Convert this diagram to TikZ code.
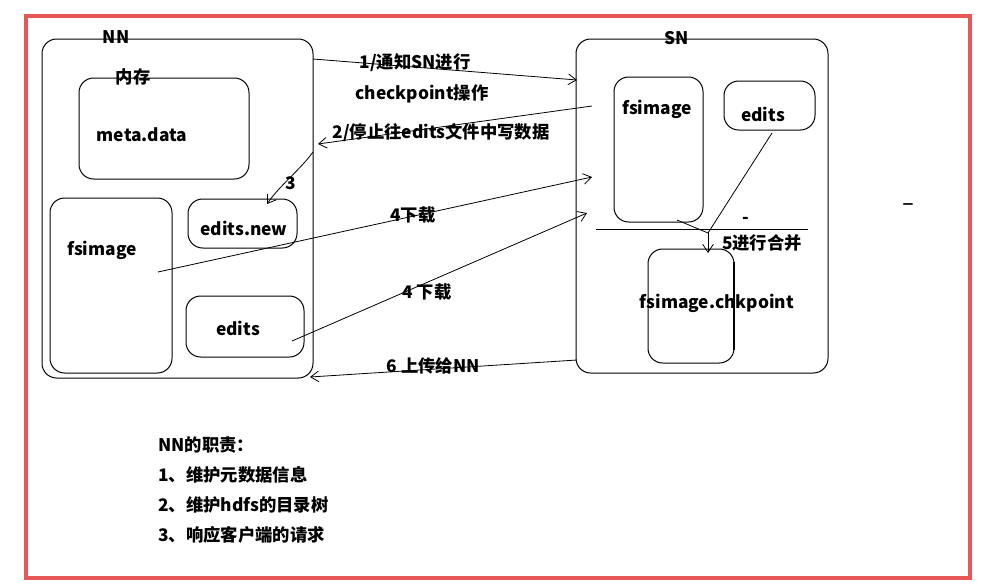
\documentclass[tikz,border=0pt]{standalone}
\usepackage{fontspec}
\setmainfont{Noto Sans CJK SC}
\usetikzlibrary{arrows.meta,fit}
\definecolor{framered}{RGB}{232,86,86}
\begin{document}
\begin{tikzpicture}[x=0.75pt,y=-0.75pt,
  box/.style={draw=black,line width=0.75pt,rounded corners=11pt,inner sep=0pt},
  lbl/.style={font=\fontsize{13pt}{15pt}\selectfont\bfseries,inner sep=0pt},
  conn/.style={draw=black,line width=0.6pt},
  tip/.style={-{Straight Barb[length=6pt,width=8pt]}}]
\useasboundingbox (0,0) rectangle (1007,586);
\fill[white] (0,0) rectangle (1007,586);
\draw[framered,line width=2.5pt] (26,16) rectangle (970,578);
% NN side
\node[box,fit={(42,39)(313,378)}] (nn) {};
\node[box,fit={(79,78)(249,179)}] (meta) {};
\node[box,fit={(50,198)(172,373)}] (fsnn) {};
\node[box,fit={(188,199)(297,248)}] (newedits) {};
\node[box,fit={(186,296)(304,357)}] (editsnn) {};
% SN side
\node[box,fit={(576,39)(828,373)}] (sn) {};
\node[box,fit={(614,77)(703,222)}] (fssn) {};
\node[box,fit={(724,81)(815,130)}] (editssn) {};
\node[box,fit={(648,249)(734,363)}] (chk) {};
\draw[line width=1.6pt] (734,262) -- (734,350);
% labels
\node[lbl] (tnn) at (116,37) {NN};
\node[lbl] (tmem) at (133,77) {内存};
\node[lbl] (tmeta) at (142,135) {meta.data};
\node[lbl] (tfsnn) at (102,250) {fsimage};
\node[lbl] (tnew) at (244,228) {edits.new};
\node[lbl] (tednn) at (238,328) {edits};
\node[lbl] (tsn) at (677,38) {SN};
\node[lbl] (tfssn) at (657,109) {fsimage};
\node[lbl] (tedsn) at (763,114) {edits};
\node[lbl] (tchk) at (717,303) {fsimage.chkpoint};
\node[lbl] (t5) at (762,243) {5进行合并};
\node[lbl] (t1a) at (415,63) {1/通知SN进行};
\node[lbl] (t1b) at (422,94) {checkpoint操作};
\node[lbl] (t2) at (441,133) {2/停止往edits文件中写数据};
\node[lbl] (t3) at (291,183) {3};
\node[lbl] (t4a) at (413,215) {4下载};
\node[lbl] (t4b) at (427,292) {4 下载};
\node[lbl] (t6) at (433,366) {6 上传给NN};
\node[lbl] (dash1) at (746,220) {-};
\node[lbl] (dash2) at (908,204) {\_};
% bottom text
\node[lbl,anchor=west] (r0) at (158,445) {NN的职责：};
\node[lbl,anchor=west] (r1) at (158,475) {1、维护元数据信息};
\node[lbl,anchor=west] (r2) at (158,505) {2、维护hdfs的目录树};
\node[lbl,anchor=west] (r3) at (158,535) {3、响应客户端的请求};
% connector coordinates
\coordinate (a1s) at (313,59);
\coordinate (a1e) at (577,80);
\coordinate (a2s) at (592,106);
\coordinate (a2e) at (318,144);
\coordinate (a3s) at (313,152);
\coordinate (a3e) at (267,204);
\coordinate (a4s) at (158,272);
\coordinate (a4e) at (592,177);
\coordinate (a5s) at (292,341);
\coordinate (a5e) at (587,213);
\coordinate (a6s) at (577,360);
\coordinate (a6e) at (310,377);
\coordinate (m1) at (677,220);
\coordinate (mj) at (708,233);
\coordinate (me) at (708,253);
\coordinate (m2) at (772,133);
\coordinate (hl1) at (596,229);
\coordinate (hl2) at (808,229);
% connectors
\draw[conn,tip] (a1s) -- (a1e);
\draw[conn,tip] (a2s) -- (a2e);
\draw[conn,tip] (a3s) .. controls (300,170) and (280,185) .. (a3e);
\draw[conn,tip] (a4s) -- (a4e);
\draw[conn,tip] (a5s) -- (a5e);
\draw[conn,tip] (a6s) -- (a6e);
\draw[conn] (m1) -- (mj);
\draw[conn] (m2) -- (mj);
\draw[conn,tip] (mj) -- (me);
\draw[conn] (hl1) -- (hl2);
\end{tikzpicture}
\end{document}
